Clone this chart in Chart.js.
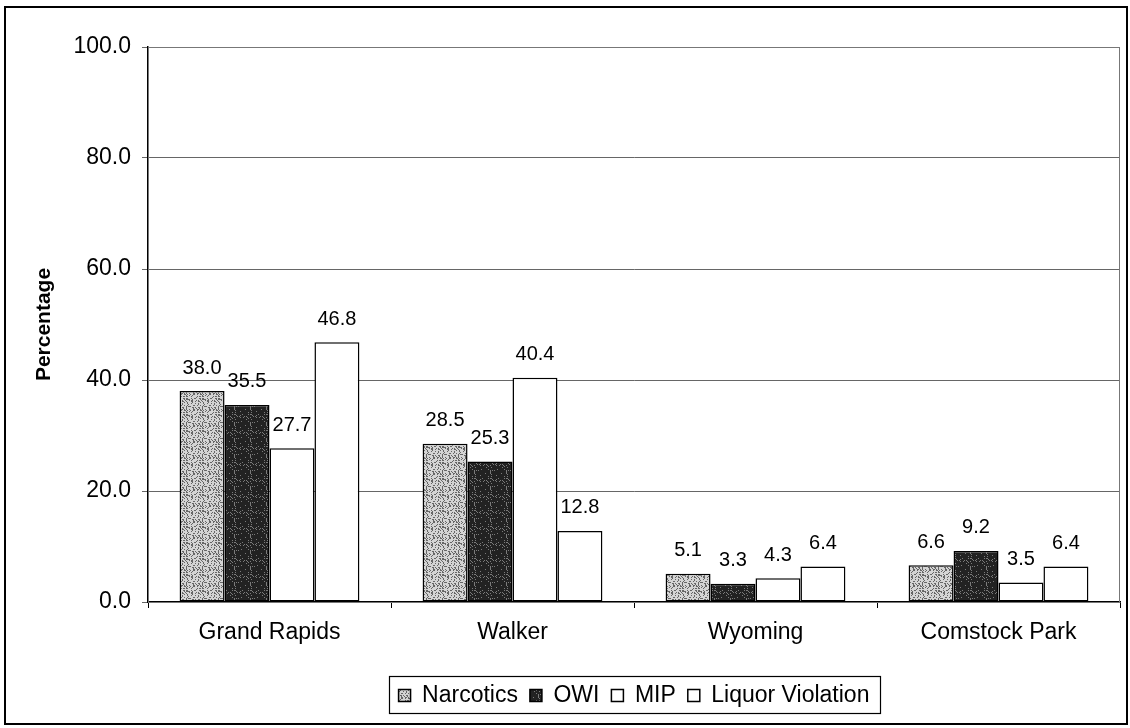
<!DOCTYPE html>
<html>
<head>
<meta charset="utf-8">
<script src="https://cdn.jsdelivr.net/npm/chart.js@4"></script>
<style>
html,body{margin:0;padding:0;background:#fff;}
#wrap{width:1130px;height:728px;position:relative;}
</style>
</head>
<body>
<div id="wrap"><canvas id="c" width="1130" height="728"></canvas></div>
<script>
const categories = ["Grand Rapids", "Walker", "Wyoming", "Comstock Park"];
const seriesNames = ["Narcotics", "OWI", "MIP", "Liquor Violation"];
const narcotics = [38.0, 28.5, 5.1, 6.6];
const owi = [35.5, 25.3, 3.3, 9.2];
const mip = [27.7, 40.4, 4.3, 3.5];
const liquor = [46.8, 12.8, 6.4, 6.4];
const yTicks = [0, 20, 40, 60, 80, 100];

function stipple(base, dot, density) {
  const c = document.createElement('canvas');
  c.width = 16; c.height = 16;
  const g = c.getContext('2d');
  g.fillStyle = base; g.fillRect(0, 0, 16, 16);
  g.fillStyle = dot;
  for (let y = 0; y < 16; y++) {
    for (let x = 0; x < 16; x++) {
      const h = (((x + 1) * 2654435761) ^ ((y + 3) * 40503) ^ (x * y * 97)) >>> 0;
      if (h % 100 < density) g.fillRect(x, y, 1, 1);
    }
  }
  return g.createPattern(c, 'repeat');
}

const ctx0 = document.getElementById('c').getContext('2d');
const fills = [stipple('#d4d4d4', '#666', 30), stipple('#222', '#7a7a7a', 15), '#ffffff', '#ffffff'];
const values = [narcotics, owi, mip, liquor];

Chart.defaults.font.family = '"Liberation Sans", Arial, sans-serif';
Chart.defaults.color = '#000';

const frame = {
  id: 'frame',
  beforeDraw(chart) {
    const c = chart.ctx;
    c.save();
    c.fillStyle = '#fff';
    c.fillRect(0, 0, chart.width, chart.height);
    c.restore();
  },
  beforeDatasetsDraw(chart) {
    const a = chart.chartArea, c = chart.ctx;
    c.save();
    c.strokeStyle = '#777';
    c.lineWidth = 1;
    c.strokeRect(a.left + 0.5, a.top + 0.5, a.right - a.left - 1, a.bottom - a.top);
    c.restore();
  },
  afterDraw(chart) {
    const c = chart.ctx;
    c.save();
    // data labels
    c.font = '20px "Liberation Sans", Arial, sans-serif';
    c.fillStyle = '#000';
    c.textAlign = 'center';
    c.textBaseline = 'middle';
    chart.data.datasets.forEach((ds, i) => {
      chart.getDatasetMeta(i).data.forEach((bar, j) => {
        c.fillText(ds.data[j].toFixed(1), bar.x, bar.y - 23);
      });
    });
    // legend border
    const lg = chart.legend;
    if (lg && lg.legendHitBoxes && lg.legendHitBoxes.length) {
      let l = Infinity, r = -Infinity, t = Infinity, b = -Infinity;
      lg.legendHitBoxes.forEach(h => {
        l = Math.min(l, h.left); r = Math.max(r, h.left + h.width);
        t = Math.min(t, h.top); b = Math.max(b, h.top + h.height);
      });
      c.strokeStyle = '#000';
      c.lineWidth = 1.2;
      c.strokeRect(Math.round(l - 10) + 0.5, Math.round(t - 8) + 0.5, Math.round(r - l + 20), Math.round(b - t + 14));
    }
    // outer border
    c.strokeStyle = '#000';
    c.lineWidth = 2;
    c.strokeRect(5, 7, 1122, 717);
    c.restore();
  }
};

new Chart(ctx0, {
  type: 'bar',
  data: {
    labels: categories,
    datasets: seriesNames.map((n, i) => ({
      label: n,
      data: values[i],
      backgroundColor: fills[i],
      borderColor: '#000',
      borderWidth: 1.5,
      borderSkipped: false,
      barPercentage: 1.0,
      categoryPercentage: 0.74
    }))
  },
  options: {
    responsive: false,
    animation: false,
    layout: { padding: { left: 0, right: 10, top: 47, bottom: 11 } },
    plugins: {
      tooltip: { enabled: false },
      legend: {
        position: 'bottom',
        fullSize: false,
        labels: {
          boxWidth: 12,
          boxHeight: 12,
          padding: 12,
          color: '#000',
          font: { size: 23 }
        }
      }
    },
    scales: {
      x: {
        offset: true,
        grid: { display: true, drawOnChartArea: false, drawTicks: true, tickLength: 6, color: '#000', offset: true },
        border: { color: '#000', width: 1.5 },
        ticks: { font: { size: 23 }, color: '#000', padding: 11, maxRotation: 0 },
        afterFit(s) { s.height = 70; }
      },
      y: {
        min: 0,
        max: 100,
        afterBuildTicks(s) { s.ticks = yTicks.map(v => ({ value: v })); },
        ticks: {
          font: { size: 23 },
          color: '#000',
          padding: 11,
          callback: v => Number(v).toFixed(1)
        },
        grid: { color: '#666', lineWidth: 1, tickLength: 6, drawTicks: true },
        border: { color: '#000', width: 1.5 },
        title: {
          display: true,
          text: 'Percentage',
          color: '#000',
          font: { size: 21, weight: 'bold' },
          padding: { top: 32, bottom: 0 }
        },
        afterFit(s) { s.width = 148; }
      }
    }
  },
  plugins: [frame]
});
</script>
</body>
</html>
